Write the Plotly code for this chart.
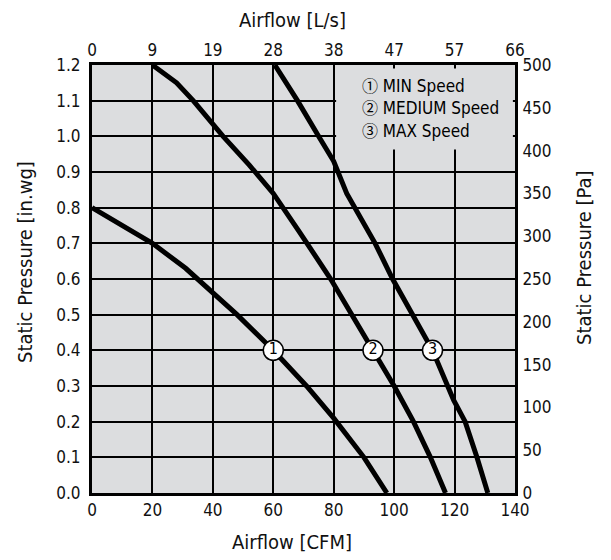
import plotly.graph_objects as go

# ---- data ----
cfm_ticks = [0, 20, 40, 60, 80, 100, 120, 140]
ls_ticks = ["0", "9", "19", "28", "38", "47", "57", "66"]
inwg_ticks = [0.0, 0.1, 0.2, 0.3, 0.4, 0.5, 0.6, 0.7, 0.8, 0.9, 1.0, 1.1, 1.2]
pa_ticks = [0, 50, 100, 150, 200, 250, 300, 350, 400, 450, 500]

min_x = [0, 20, 31, 40, 48, 60, 71, 80, 90, 97.6]
min_y = [0.8, 0.7, 0.63, 0.56, 0.5, 0.4, 0.3, 0.21, 0.1, 0.0]

med_x = [20, 28, 33.5, 43.4, 52, 60, 68.8, 79, 86, 93, 100, 106.4, 112, 117]
med_y = [1.2, 1.15, 1.1, 1.0, 0.92, 0.84, 0.73, 0.6, 0.5, 0.4, 0.3, 0.2, 0.1, 0.0]

max_x = [60.5, 68, 75, 80, 84.3, 93.7, 99.5, 106, 112.7, 119.7, 123.5, 127.4, 131]
max_y = [1.2, 1.1, 1.0, 0.93, 0.84, 0.7, 0.6, 0.5, 0.4, 0.26, 0.2, 0.1, 0.0]

label_x = [60, 93, 112.7]
label_y = [0.4, 0.4, 0.4]
label_txt = ["1", "2", "3"]

legend_marks = ["①", "②", "③"]
legend_names = ["MIN Speed", "MEDIUM Speed", "MAX Speed"]

FONT = "DejaVu Sans Condensed, DejaVu Sans, sans-serif"
NARROW = "Liberation Sans Narrow, DejaVu Sans Condensed, sans-serif"
BG = "#dcdddf"

fig = go.Figure()
for xs, ys in [(min_x, min_y), (med_x, med_y), (max_x, max_y)]:
    fig.add_trace(go.Scatter(x=xs, y=ys, mode="lines",
                             line=dict(color="black", width=5),
                             showlegend=False, hoverinfo="skip"))
fig.add_trace(go.Scatter(x=label_x, y=label_y, mode="markers+text",
                         text=label_txt, textposition="middle center",
                         textfont=dict(family=NARROW, size=16, color="black"),
                         marker=dict(size=20, color="white",
                                     line=dict(color="black", width=1.5)),
                         showlegend=False, hoverinfo="skip"))
# dummy trace to create secondary axes
fig.add_trace(go.Scatter(x=[0, 140], y=[0, 500], xaxis="x2", yaxis="y2",
                         mode="lines", line=dict(width=0, color="rgba(0,0,0,0)"),
                         showlegend=False, hoverinfo="skip"))

tickfont = dict(family=FONT, size=17, color="#111")
# page has an 8px body margin, so the figure is 8px smaller and shifted
fig.update_layout(
    width=603, height=552,
    margin=dict(l=84, r=96, t=57, b=67, autoexpand=False),
    paper_bgcolor="white", plot_bgcolor=BG,
    xaxis=dict(range=[0, 140], tickvals=cfm_ticks, showgrid=True, automargin=False,
               gridcolor="black", gridwidth=2, zeroline=False,
               showline=True, linecolor="black", linewidth=3, mirror=True,
               ticks="outside", ticklen=0, tickcolor="rgba(0,0,0,0)",
               tickfont=tickfont),
    yaxis=dict(range=[0, 1.2], tickvals=inwg_ticks, automargin=False,
               ticktext=[f"{v:.1f}" for v in inwg_ticks], showgrid=True,
               gridcolor="black", gridwidth=2, zeroline=False,
               showline=True, linecolor="black", linewidth=3, mirror=True,
               ticks="outside", ticklen=5, tickcolor="rgba(0,0,0,0)",
               tickfont=tickfont),
    xaxis2=dict(range=[0, 140], overlaying="x", side="top", tickvals=cfm_ticks,
                ticktext=ls_ticks, showgrid=False, zeroline=False, automargin=False,
                showline=False, ticks="outside", ticklen=1,
                tickcolor="rgba(0,0,0,0)", tickfont=tickfont),
    yaxis2=dict(range=[0, 500], overlaying="y", side="right", tickvals=pa_ticks,
                showgrid=False, zeroline=False, showline=False, automargin=False,
                ticks="outside", ticklen=3, tickcolor="rgba(0,0,0,0)",
                tickfont=tickfont),
)

# legend box background covering grid
fig.add_shape(type="rect", xref="x", yref="y", x0=80.8, x1=139.3, y0=0.963, y1=1.19,
              fillcolor=BG, line=dict(width=0), layer="above")
for i in range(3):
    fig.add_annotation(
        text=f'<span style="font-family:Noto Sans CJK JP;font-size:16px">{legend_marks[i]}</span> {legend_names[i]}',
        xref="paper", yref="paper",
        x=(360 - 92) / 423, y=(493 - [85, 107, 130][i]) / 428,
        xanchor="left", yanchor="middle", showarrow=False,
        font=dict(family=NARROW, size=17, color="black"))

titlefont = dict(family=FONT, size=20, color="#111")
fig.add_annotation(text="Airflow [CFM]", xref="paper", yref="paper",
                   x=(292 - 92) / 423, y=(493 - 542) / 428, xanchor="center",
                   yanchor="middle", showarrow=False, font=titlefont)
fig.add_annotation(text="Airflow [L/s]", xref="paper", yref="paper",
                   x=(292 - 92) / 423, y=(493 - 20) / 428, xanchor="center",
                   yanchor="middle", showarrow=False, font=titlefont)
fig.add_annotation(text="Static Pressure [in.wg]", xref="paper", yref="paper",
                   x=(25 - 92) / 423, y=(493 - 262) / 428, xanchor="center",
                   yanchor="middle", textangle=-90, showarrow=False, font=titlefont)
fig.add_annotation(text="Static Pressure [Pa]", xref="paper", yref="paper",
                   x=(584 - 92) / 423, y=(493 - 258) / 428, xanchor="center",
                   yanchor="middle", textangle=-90, showarrow=False, font=titlefont)

fig.write_html("out.html")
